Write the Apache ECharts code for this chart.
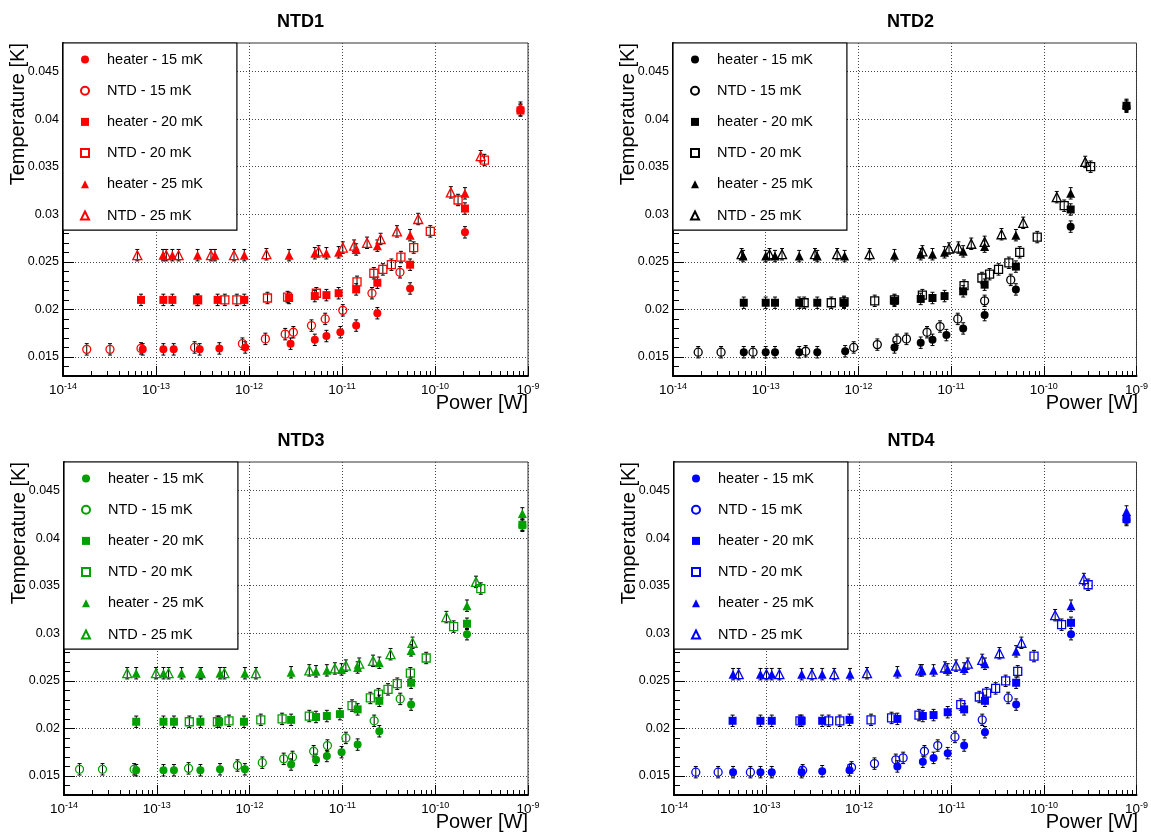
<!DOCTYPE html>
<html><head><meta charset="utf-8">
<script src="https://cdn.jsdelivr.net/npm/echarts@6/dist/echarts.min.js"></script>
<style>html,body{margin:0;padding:0;background:#fff}#c{width:1151px;height:838px}</style>
</head><body><div id="c"></div>
<script>
// ---------------- data ----------------
const PANEL_TITLES = ['NTD1', 'NTD2', 'NTD3', 'NTD4'];
const SERIES_NAMES = ['heater - 15 mK', 'NTD - 15 mK', 'heater - 20 mK', 'NTD - 20 mK', 'heater - 25 mK', 'NTD - 25 mK'];
const PANEL_COLORS = ['#ff0000', '#000000', '#00a000', '#0000ff'];
const X_TICKS = [1e-14, 1e-13, 1e-12, 1e-11, 1e-10, 1e-9];
const Y_TICKS = [0.015, 0.02, 0.025, 0.03, 0.035, 0.04, 0.045];
const Y_RANGE = [0.013, 0.048];
const ERR = 0.0006;
const X_TITLE = 'Power [W]';
const Y_TITLE = 'Temperature [K]';

// NTD1
const ntd1_heater15 = [[7.2e-14,0.0158],[1.2e-13,0.0158],[1.55e-13,0.0158],[2.95e-13,0.0158],[4.8e-13,0.0159],[9.1e-13,0.0160],[2.8e-12,0.0164],[5.1e-12,0.0168],[6.8e-12,0.0172],[9.6e-12,0.0176],[1.42e-11,0.0183],[2.4e-11,0.0196],[5.4e-11,0.0222],[2.1e-10,0.0281],[8.3e-10,0.0410]];
const ntd1_ntd15 = [[1.8e-14,0.0158],[3.2e-14,0.0158],[6.9e-14,0.0159],[2.6e-13,0.0160],[8.5e-13,0.0164],[1.5e-12,0.0169],[2.45e-12,0.0174],[3.0e-12,0.0176],[4.7e-12,0.0183],[6.6e-12,0.0190],[1.02e-11,0.0199],[2.1e-11,0.0217],[4.2e-11,0.0239]];
const ntd1_heater20 = [[6.9e-14,0.0210],[1.2e-13,0.0210],[1.5e-13,0.0210],[2.8e-13,0.0210],[4.6e-13,0.0210],[8.9e-13,0.0210],[2.7e-12,0.0212],[5.1e-12,0.0214],[6.8e-12,0.0215],[9.2e-12,0.0217],[1.42e-11,0.0221],[2.4e-11,0.0228],[5.4e-11,0.0247],[2.1e-10,0.0306],[8.3e-10,0.0409]];
const ntd1_ntd20 = [[2.8e-13,0.0210],[5.5e-13,0.0210],[7.4e-13,0.0210],[1.58e-12,0.0212],[2.6e-12,0.0213],[5.3e-12,0.0217],[1.45e-11,0.0229],[2.2e-11,0.0238],[2.75e-11,0.0242],[3.4e-11,0.0247],[4.3e-11,0.0255],[5.9e-11,0.0265],[8.9e-11,0.0282],[1.77e-10,0.0315],[3.4e-10,0.0357]];
const ntd1_heater25 = [[1.19e-13,0.0257],[1.5e-13,0.0257],[2.8e-13,0.0257],[4.3e-13,0.0257],[8.9e-13,0.0257],[2.7e-12,0.0257],[5.1e-12,0.0259],[6.8e-12,0.0259],[9.2e-12,0.0260],[1.42e-11,0.0263],[2.4e-11,0.0267],[5.4e-11,0.0278],[2.1e-10,0.0322],[8.3e-10,0.0412]];
const ntd1_ntd25 = [[6.3e-14,0.0257],[1.29e-13,0.0257],[1.75e-13,0.0257],[3.9e-13,0.0257],[6.9e-13,0.0257],[1.54e-12,0.0258],[5.6e-12,0.0261],[1.02e-11,0.0265],[1.35e-11,0.0267],[1.86e-11,0.0270],[2.6e-11,0.0274],[3.9e-11,0.0282],[6.6e-11,0.0295],[1.48e-10,0.0323],[3.1e-10,0.0361]];

// NTD2
const ntd2_heater15 = [[5.8e-14,0.0155],[1.0e-13,0.0155],[1.26e-13,0.0155],[2.3e-13,0.0155],[3.6e-13,0.0155],[7.2e-13,0.0156],[2.45e-12,0.0160],[4.7e-12,0.0165],[6.3e-12,0.0168],[8.9e-12,0.0173],[1.35e-11,0.0180],[2.3e-11,0.0194],[5.0e-11,0.0221],[1.95e-10,0.0287],[7.8e-10,0.0413]];
const ntd2_ntd15 = [[1.87e-14,0.0155],[3.3e-14,0.0155],[7.3e-14,0.0155],[2.7e-13,0.0156],[8.9e-13,0.0160],[1.6e-12,0.0163],[2.6e-12,0.0168],[3.3e-12,0.0169],[5.5e-12,0.0176],[7.6e-12,0.0182],[1.18e-11,0.0190],[2.3e-11,0.0209],[4.4e-11,0.0231]];
const ntd2_heater20 = [[5.8e-14,0.0207],[1.0e-13,0.0207],[1.26e-13,0.0207],[2.3e-13,0.0207],[3.6e-13,0.0207],[7.0e-13,0.0207],[2.45e-12,0.0209],[4.7e-12,0.0211],[6.3e-12,0.0212],[8.5e-12,0.0214],[1.35e-11,0.0219],[2.3e-11,0.0226],[5.0e-11,0.0245],[1.95e-10,0.0305],[7.8e-10,0.0414]];
const ntd2_ntd20 = [[2.6e-13,0.0207],[5.1e-13,0.0207],[7.0e-13,0.0208],[1.5e-12,0.0209],[2.45e-12,0.0210],[4.9e-12,0.0215],[1.38e-11,0.0225],[2.15e-11,0.0233],[2.6e-11,0.0237],[3.25e-11,0.0242],[4.2e-11,0.0249],[5.5e-11,0.0260],[8.5e-11,0.0276],[1.66e-10,0.0309],[3.2e-10,0.0350]];
const ntd2_heater25 = [[5.7e-14,0.0256],[1.0e-13,0.0256],[1.26e-13,0.0256],[2.3e-13,0.0256],[3.6e-13,0.0256],[7.1e-13,0.0256],[2.45e-12,0.0257],[4.7e-12,0.0258],[6.3e-12,0.0258],[8.5e-12,0.0260],[1.35e-11,0.0261],[2.3e-11,0.0266],[5.0e-11,0.0278],[1.95e-10,0.0322],[7.8e-10,0.0415]];
const ntd2_ntd25 = [[5.5e-14,0.0258],[1.1e-13,0.0258],[1.5e-13,0.0258],[3.4e-13,0.0258],[5.9e-13,0.0258],[1.32e-12,0.0258],[4.9e-12,0.0261],[9.5e-12,0.0264],[1.2e-11,0.0265],[1.65e-11,0.0269],[2.3e-11,0.0271],[3.5e-11,0.0279],[6.0e-11,0.0291],[1.38e-10,0.0318],[2.8e-10,0.0355]];

// NTD3
const ntd3_heater15 = [[6.0e-14,0.0156],[1.18e-13,0.0156],[1.53e-13,0.0156],[2.95e-13,0.0156],[4.8e-13,0.0157],[8.9e-13,0.0157],[2.8e-12,0.0162],[5.2e-12,0.0167],[6.8e-12,0.0171],[9.8e-12,0.0175],[1.46e-11,0.0183],[2.5e-11,0.0197],[5.5e-11,0.0225],[2.2e-10,0.0299],[8.7e-10,0.0413]];
const ntd3_ntd15 = [[1.47e-14,0.0157],[2.6e-14,0.0157],[5.7e-14,0.0157],[2.2e-13,0.0158],[7.4e-13,0.0161],[1.37e-12,0.0164],[2.33e-12,0.0168],[2.9e-12,0.0170],[4.9e-12,0.0176],[6.9e-12,0.0182],[1.09e-11,0.0190],[2.2e-11,0.0208],[4.2e-11,0.0231]];
const ntd3_heater20 = [[6.0e-14,0.0207],[1.18e-13,0.0207],[1.53e-13,0.0207],[2.95e-13,0.0207],[4.7e-13,0.0207],[8.7e-13,0.0207],[2.8e-12,0.0209],[5.2e-12,0.0212],[6.8e-12,0.0213],[9.4e-12,0.0215],[1.46e-11,0.0220],[2.5e-11,0.0229],[5.5e-11,0.0248],[2.2e-10,0.0310],[8.7e-10,0.0414]];
const ntd3_ntd20 = [[2.24e-13,0.0207],[4.5e-13,0.0207],[6.0e-13,0.0208],[1.32e-12,0.0209],[2.24e-12,0.0210],[4.4e-12,0.0213],[1.27e-11,0.0224],[2.0e-11,0.0232],[2.45e-11,0.0236],[3.1e-11,0.0241],[3.9e-11,0.0247],[5.4e-11,0.0258],[8.0e-11,0.0274],[1.58e-10,0.0307],[3.1e-10,0.0347]];
const ntd3_heater25 = [[6.0e-14,0.0258],[1.18e-13,0.0258],[1.85e-13,0.0258],[3.0e-13,0.0258],[4.8e-13,0.0258],[8.9e-13,0.0258],[2.8e-12,0.0259],[5.2e-12,0.0260],[6.8e-12,0.0261],[9.8e-12,0.0262],[1.46e-11,0.0264],[2.5e-11,0.0269],[5.5e-11,0.0282],[2.2e-10,0.0329],[8.7e-10,0.0426]];
const ntd3_ntd25 = [[4.8e-14,0.0258],[9.8e-14,0.0258],[1.34e-13,0.0258],[2.95e-13,0.0258],[5.35e-13,0.0258],[1.17e-12,0.0258],[4.4e-12,0.0261],[8.3e-12,0.0263],[1.09e-11,0.0266],[1.52e-11,0.0268],[2.14e-11,0.0271],[3.3e-11,0.0278],[5.7e-11,0.0290],[1.32e-10,0.0317],[2.75e-10,0.0354]];

// NTD4
const ntd4_heater15 = [[4.35e-14,0.0154],[8.6e-14,0.0154],[1.14e-13,0.0154],[2.4e-13,0.0154],[4.0e-13,0.0155],[7.9e-13,0.0156],[2.6e-12,0.0160],[4.9e-12,0.0165],[6.4e-12,0.0169],[9.1e-12,0.0174],[1.37e-11,0.0182],[2.3e-11,0.0196],[5.0e-11,0.0225],[1.96e-10,0.0299],[7.8e-10,0.0419]];
const ntd4_ntd15 = [[1.72e-14,0.0154],[3.0e-14,0.0154],[6.7e-14,0.0154],[2.46e-13,0.0156],[8.3e-13,0.0159],[1.47e-12,0.0163],[2.5e-12,0.0167],[3.0e-12,0.0169],[5.1e-12,0.0176],[7.1e-12,0.0182],[1.09e-11,0.0191],[2.15e-11,0.0209],[4.1e-11,0.0232]];
const ntd4_heater20 = [[4.3e-14,0.0208],[8.6e-14,0.0208],[1.14e-13,0.0208],[2.4e-13,0.0208],[4.0e-13,0.0208],[7.9e-13,0.0209],[2.6e-12,0.0210],[4.9e-12,0.0213],[6.4e-12,0.0214],[9.1e-12,0.0217],[1.37e-11,0.0220],[2.3e-11,0.0229],[5.0e-11,0.0248],[1.96e-10,0.0311],[7.8e-10,0.0420]];
const ntd4_ntd20 = [[2.3e-13,0.0208],[4.7e-13,0.0208],[6.2e-13,0.0208],[1.35e-12,0.0209],[2.25e-12,0.0211],[4.45e-12,0.0214],[1.26e-11,0.0225],[2.0e-11,0.0233],[2.4e-11,0.0237],[3.0e-11,0.0242],[3.85e-11,0.0250],[5.2e-11,0.0260],[7.8e-11,0.0276],[1.55e-10,0.0309],[3.0e-10,0.0351]];
const ntd4_heater25 = [[4.35e-14,0.0257],[8.6e-14,0.0257],[1.14e-13,0.0257],[2.4e-13,0.0257],[4.0e-13,0.0257],[8.0e-13,0.0257],[2.6e-12,0.0259],[4.8e-12,0.0261],[6.4e-12,0.0261],[9.1e-12,0.0262],[1.37e-11,0.0263],[2.3e-11,0.0268],[5.0e-11,0.0281],[1.96e-10,0.0329],[7.8e-10,0.0428]];
const ntd4_ntd25 = [[5.0e-14,0.0257],[1.0e-13,0.0257],[1.38e-13,0.0257],[3.1e-13,0.0257],[5.4e-13,0.0257],[1.22e-12,0.0258],[4.6e-12,0.0261],[8.5e-12,0.0264],[1.12e-11,0.0266],[1.5e-11,0.0268],[2.15e-11,0.0272],[3.3e-11,0.0279],[5.7e-11,0.0290],[1.32e-10,0.0319],[2.7e-10,0.0357]];

const PANEL_DATA = [
  [ntd1_heater15, ntd1_ntd15, ntd1_heater20, ntd1_ntd20, ntd1_heater25, ntd1_ntd25],
  [ntd2_heater15, ntd2_ntd15, ntd2_heater20, ntd2_ntd20, ntd2_heater25, ntd2_ntd25],
  [ntd3_heater15, ntd3_ntd15, ntd3_heater20, ntd3_ntd20, ntd3_heater25, ntd3_ntd25],
  [ntd4_heater15, ntd4_ntd15, ntd4_heater20, ntd4_ntd20, ntd4_heater25, ntd4_ntd25]
];

// ---------------- layout / style ----------------
const FONT = '"Liberation Sans", Arial, Helvetica, sans-serif';
const GRIDS = [
  {left: 63, top: 43, width: 465, height: 333},
  {left: 673, top: 43, width: 465, height: 333},
  {left: 64, top: 462, width: 464, height: 333},
  {left: 674, top: 462, width: 464, height: 333}
];
const SYMBOLS = ['circle', 'circle', 'rect', 'rect', 'triangle', 'triangle'];
const SIZES = [8, 8, 8, 8, 9, 9];
const FILLED = [true, false, true, false, true, false];

const minorX = [];
for (let e = -14; e < -9; e++) for (let m = 2; m <= 9; m++) minorX.push(m * Math.pow(10, e));
const minorY = [];
for (let k = 13; k <= 48; k++) minorY.push(k / 1000);

const option = {
  animation: false,
  backgroundColor: '#fff',
  title: [], grid: [], xAxis: [], yAxis: [], legend: [], series: [], graphic: []
};

GRIDS.forEach((g, i) => {
  const color = PANEL_COLORS[i];
  option.grid.push(Object.assign({show: true, borderColor: '#333', borderWidth: 1, backgroundColor: 'transparent', containLabel: false}, g));
  option.title.push({
    text: PANEL_TITLES[i], left: g.left + g.width / 2, top: g.top - 35, textAlign: 'center',
    textStyle: {fontSize: 18, fontWeight: 'bold', fontFamily: FONT, color: '#000'}
  });
  option.xAxis.push({
    type: 'log', logBase: 10, gridIndex: i, position: 'bottom', min: 1e-14, max: 1e-9,
    axisLine: {show: true, onZero: false, lineStyle: {color: '#000', width: 2}},
    axisTick: {show: true, inside: true, length: 10, customValues: X_TICKS, lineStyle: {color: '#000', width: 1}},
    axisLabel: {
      show: true, customValues: X_TICKS, margin: 6, color: '#000', fontFamily: FONT,
      formatter: v => '{b|10}{s|' + Math.round(Math.log10(v)) + '}',
      rich: {
        b: {fontSize: 13.5, fontFamily: FONT, color: '#000'},
        s: {fontSize: 9, fontFamily: FONT, color: '#000', padding: [0, 0, 8, 0]}
      }
    },
    splitLine: {show: true, lineStyle: {color: '#444', width: 1, type: [1, 2]}}
  });
  option.xAxis.push({
    type: 'log', logBase: 10, gridIndex: i, position: 'bottom', min: 1e-14, max: 1e-9,
    axisLine: {show: false, onZero: false},
    axisTick: {show: true, inside: true, length: 5, customValues: minorX, lineStyle: {color: '#000', width: 1}},
    axisLabel: {show: false}, splitLine: {show: false}
  });
  option.yAxis.push({
    type: 'value', gridIndex: i, position: 'left', min: Y_RANGE[0], max: Y_RANGE[1],
    axisLine: {show: true, onZero: false, lineStyle: {color: '#000', width: 2}},
    axisTick: {show: true, inside: true, length: 11, customValues: Y_TICKS, lineStyle: {color: '#000', width: 1}},
    axisLabel: {show: true, customValues: Y_TICKS, margin: 4, color: '#000', fontSize: 12.5, fontFamily: FONT,
      formatter: v => String(parseFloat(Number(v).toFixed(4)))},
    splitLine: {show: true, lineStyle: {color: '#444', width: 1, type: [1, 2]}}
  });
  option.yAxis.push({
    type: 'value', gridIndex: i, position: 'left', min: Y_RANGE[0], max: Y_RANGE[1],
    axisLine: {show: false, onZero: false},
    axisTick: {show: true, inside: true, length: 6, customValues: minorY, lineStyle: {color: '#000', width: 1}},
    axisLabel: {show: false}, splitLine: {show: false}
  });

  const errData = [];
  PANEL_DATA[i].forEach(arr => arr.forEach(p => errData.push([p[0], p[1]])));
  option.series.push({
    type: 'custom', xAxisIndex: 2 * i, yAxisIndex: 2 * i, silent: true, z: 2,
    encode: {x: 0, y: 1},
    data: errData,
    renderItem: (params, api) => {
      const x = api.value(0), y = api.value(1);
      const t = api.coord([x, y + ERR]);
      const b = api.coord([x, y - ERR]);
      const cw = 2;
      const st = {stroke: '#000', lineWidth: 1};
      return {type: 'group', children: [
        {type: 'line', shape: {x1: t[0], y1: t[1], x2: b[0], y2: b[1]}, style: st},
        {type: 'line', shape: {x1: t[0] - cw, y1: t[1], x2: t[0] + cw, y2: t[1]}, style: st},
        {type: 'line', shape: {x1: b[0] - cw, y1: b[1], x2: b[0] + cw, y2: b[1]}, style: st}
      ]};
    }
  });

  SERIES_NAMES.forEach((nm, j) => {
    option.series.push({
      type: 'scatter', name: nm + '#' + i, xAxisIndex: 2 * i, yAxisIndex: 2 * i,
      data: PANEL_DATA[i][j], symbol: SYMBOLS[j], symbolSize: SIZES[j], z: 3, silent: true,
      itemStyle: FILLED[j] ? {color: color, opacity: 1} : {color: 'rgba(255,255,255,0)', borderColor: color, borderWidth: 1.3, opacity: 1},
      emphasis: {disabled: true}
    });
  });

  option.legend.push({
    show: true, orient: 'vertical', left: g.left, top: g.top, selectedMode: false,
    data: SERIES_NAMES.map(n => n + '#' + i),
    formatter: n => n.split('#')[0],
    backgroundColor: '#fff', borderColor: '#000', borderWidth: 1.2,
    padding: [8.5, 34, 6.7, 17], itemWidth: 8, itemHeight: 8, itemGap: 15.2,
    itemStyle: {opacity: 1},
    textStyle: {fontSize: 14.5, lineHeight: 16, color: '#000', fontFamily: FONT, padding: [0, 0, 0, 13]},
    z: 10
  });

  option.graphic.push({
    type: 'text', x: g.left - 45, y: g.top, rotation: Math.PI / 2, z: 10,
    style: {text: Y_TITLE, font: '20px ' + FONT, fill: '#000', align: 'right', verticalAlign: 'middle'}
  });
  option.graphic.push({
    type: 'text', x: g.left + g.width, y: g.top + g.height + 27, z: 10,
    style: {text: X_TITLE, font: '20px ' + FONT, fill: '#000', align: 'right', verticalAlign: 'middle'}
  });
});

const chart = echarts.init(document.getElementById('c'), null, {renderer: 'canvas'});
chart.setOption(option);
</script>
</body></html>
